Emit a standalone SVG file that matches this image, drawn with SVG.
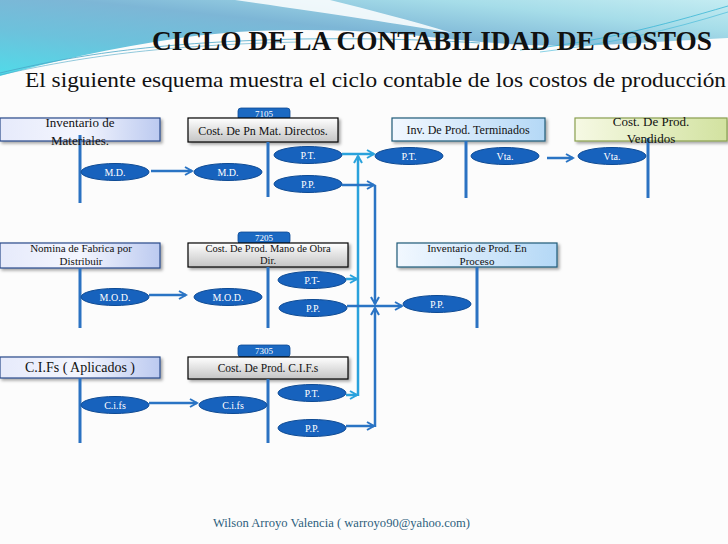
<svg xmlns="http://www.w3.org/2000/svg" width="728" height="544" viewBox="0 0 728 544">
<defs>
  <linearGradient id="sky" x1="0" y1="1" x2="1" y2="0">
    <stop offset="0" stop-color="#50dbe9"/>
    <stop offset="0.3" stop-color="#6cc2dc"/>
    <stop offset="0.55" stop-color="#7db6d6"/>
    <stop offset="0.8" stop-color="#a6dde9"/>
    <stop offset="1" stop-color="#c4ecf2"/>
  </linearGradient>
  <linearGradient id="gLav" x1="0" y1="0" x2="1" y2="0">
    <stop offset="0" stop-color="#e6eafb"/>
    <stop offset="0.5" stop-color="#f4f6fe"/>
    <stop offset="1" stop-color="#bccaf0"/>
  </linearGradient>
  <linearGradient id="gGray" x1="0" y1="0" x2="0" y2="1">
    <stop offset="0" stop-color="#ffffff"/>
    <stop offset="1" stop-color="#c4c4c4"/>
  </linearGradient>
  <linearGradient id="gBlue" x1="0" y1="0" x2="1" y2="0">
    <stop offset="0" stop-color="#f2f8ff"/>
    <stop offset="1" stop-color="#b4d8f6"/>
  </linearGradient>
  <linearGradient id="gGreen" x1="0" y1="0" x2="1" y2="0">
    <stop offset="0" stop-color="#f6f9e4"/>
    <stop offset="1" stop-color="#d2e2a0"/>
  </linearGradient>
  <filter id="sh" x="-10%" y="-20%" width="120%" height="160%">
    <feDropShadow dx="2" dy="2" stdDeviation="1.5" flood-color="#000" flood-opacity="0.35"/>
  </filter>
  <marker id="aD" viewBox="0 0 10 10" refX="8" refY="5" markerWidth="10" markerHeight="10" markerUnits="userSpaceOnUse" orient="auto">
    <path d="M1,1 L8,5 L1,9" fill="none" stroke="#2a74c4" stroke-width="2"/>
  </marker>
  <marker id="aL" viewBox="0 0 10 10" refX="8" refY="5" markerWidth="10" markerHeight="10" markerUnits="userSpaceOnUse" orient="auto">
    <path d="M1,1 L8,5 L1,9" fill="none" stroke="#2aa2dc" stroke-width="2"/>
  </marker>
  <style>
    .t { font-family: "Liberation Serif", "DejaVu Serif", serif; fill: #111; }
    .e { fill: #1762bd; stroke: #0d4a94; stroke-width: 1; }
    .et { font-family: "Liberation Serif", "DejaVu Serif", serif; font-size: 10px; fill: #fff; text-anchor: middle; }
    .tab { fill: #1b69c2; stroke: #0d4a94; stroke-width: 0.8; }
    .tabt { font-family: "Liberation Serif", "DejaVu Serif", serif; font-size: 9px; fill: #fff; text-anchor: middle; }
    .v { stroke: #2b72c2; stroke-width: 3; fill: none; }
    .cd { stroke: #2a74c4; stroke-width: 2.5; fill: none; }
    .cl { stroke: #2aa2dc; stroke-width: 2.5; fill: none; }
    .bLav { fill: url(#gLav); stroke: #2a4a8a; stroke-width: 1.2; }
    .bGray { fill: url(#gGray); stroke: #000; stroke-width: 1.2; }
    .bBlue { fill: url(#gBlue); stroke: #1f5a78; stroke-width: 1.2; }
    .bGreen { fill: url(#gGreen); stroke: #8aa050; stroke-width: 1.2; }
  </style>
</defs>

<rect x="0" y="0" width="728" height="544" fill="#fcfcfc"/>

<!-- header background -->
<path d="M0,0 H728 V38 C690,40 640,43 600,45 C520,48 460,40 400,34 C330,28 250,28 180,38 C110,48 50,62 0,76 Z" fill="url(#sky)"/>
<path d="M235,0 L330,0 C370,10 410,20 452,33 C400,24 320,12 235,0 Z" fill="#ffffff" opacity="0.85"/>
<path d="M0,73 C80,54 160,42 300,39 C380,38 430,40 480,43" fill="none" stroke="#4aa6c6" stroke-width="0.8"/>
<path d="M0,75 C80,57 160,45 300,42" fill="none" stroke="#4aa6c6" stroke-width="0.6"/>
<path d="M520,50 C600,42 660,26 728,6" fill="none" stroke="#3ab6d6" stroke-width="0.8"/>
<path d="M540,52 C610,44 670,30 728,12" fill="none" stroke="#3ab6d6" stroke-width="0.6"/>

<text class="t" x="152" y="50" font-size="28" font-weight="bold" textLength="560" lengthAdjust="spacingAndGlyphs">CICLO DE LA CONTABILIDAD DE COSTOS</text>
<text class="t" x="25" y="87" font-size="22" textLength="701" lengthAdjust="spacingAndGlyphs">El siguiente esquema muestra el ciclo contable de los costos de producción</text>

<!-- Row 1 -->
<g id="inv-materiales">
  <rect class="bLav" x="0" y="118" width="160" height="23" filter="url(#sh)"/>
  <line class="v" x1="80" y1="135" x2="80" y2="203"/>
  <text class="t" x="80" y="127" font-size="13" text-anchor="middle">Inventario de</text>
  <text class="t" x="80" y="145" font-size="13" text-anchor="middle">Materiales.</text>
  <ellipse class="e" cx="115" cy="172" rx="34" ry="8.5"/>
  <text class="et" x="115" y="175.5">M.D.</text>
</g>
<g id="cost-mat-directos">
  <rect class="tab" x="238" y="108" width="52" height="12" rx="3"/>
  <text class="tabt" x="264" y="117">7105</text>
  <rect class="bGray" x="188" y="118" width="150" height="24" filter="url(#sh)"/>
  <text class="t" x="263" y="135" font-size="12" text-anchor="middle">Cost. De Pn  Mat. Directos.</text>
  <line class="v" x1="268" y1="142" x2="268" y2="197"/>
  <ellipse class="e" cx="228" cy="172" rx="34" ry="8.5"/>
  <text class="et" x="228" y="175.5">M.D.</text>
  <ellipse class="e" cx="308" cy="155" rx="34" ry="8.5"/>
  <text class="et" x="308" y="158.5">P.T.</text>
  <ellipse class="e" cx="308" cy="184" rx="34" ry="8.5"/>
  <text class="et" x="308" y="187.5">P.P.</text>
</g>
<g id="inv-prod-terminados">
  <rect class="bBlue" x="392" y="118" width="153" height="23" filter="url(#sh)"/>
  <text class="t" x="468" y="134" font-size="12" text-anchor="middle">Inv. De Prod. Terminados</text>
  <line class="v" x1="466" y1="141" x2="466" y2="198"/>
  <ellipse class="e" cx="409" cy="156" rx="34" ry="8.5"/>
  <text class="et" x="409" y="159.5">P.T.</text>
  <ellipse class="e" cx="505" cy="156" rx="34" ry="8.5"/>
  <text class="et" x="505" y="159.5">Vta.</text>
</g>
<g id="cost-prod-vendidos">
  <rect class="bGreen" x="575" y="118" width="152" height="23" filter="url(#sh)"/>
  <line class="v" x1="648" y1="138" x2="648" y2="198"/>
  <text class="t" x="651" y="126" font-size="13" text-anchor="middle">Cost. De Prod.</text>
  <text class="t" x="651" y="143" font-size="13" text-anchor="middle">Vendidos</text>
  <ellipse class="e" cx="612" cy="156" rx="34" ry="8.5"/>
  <text class="et" x="612" y="159.5">Vta.</text>
</g>

<!-- Row 2 -->
<g id="nomina-fabrica">
  <rect class="bLav" x="0" y="243" width="160" height="25" filter="url(#sh)"/>
  <text class="t" x="81" y="252" font-size="11" text-anchor="middle">Nomina de Fabrica por</text>
  <text class="t" x="81" y="265" font-size="11" text-anchor="middle">Distribuir</text>
  <line class="v" x1="80" y1="268" x2="80" y2="328"/>
  <ellipse class="e" cx="115" cy="297" rx="34" ry="8.5"/>
  <text class="et" x="115" y="300.5">M.O.D.</text>
</g>
<g id="cost-mano-obra">
  <rect class="tab" x="238" y="232" width="52" height="12" rx="3"/>
  <text class="tabt" x="264" y="241">7205</text>
  <rect class="bGray" x="188" y="243" width="160" height="24" filter="url(#sh)"/>
  <text class="t" x="268" y="252" font-size="10.5" text-anchor="middle">Cost. De Prod. Mano de Obra</text>
  <text class="t" x="268" y="264" font-size="10.5" text-anchor="middle">Dir.</text>
  <line class="v" x1="268" y1="267" x2="268" y2="328"/>
  <ellipse class="e" cx="228" cy="297" rx="34" ry="8.5"/>
  <text class="et" x="228" y="300.5">M.O.D.</text>
  <ellipse class="e" cx="312" cy="280" rx="34" ry="8.5"/>
  <text class="et" x="312" y="283.5">P.T-</text>
  <ellipse class="e" cx="313" cy="308" rx="34" ry="8.5"/>
  <text class="et" x="313" y="311.5">P.P.</text>
</g>
<g id="inv-prod-proceso">
  <rect class="bBlue" x="397" y="243" width="160" height="24" filter="url(#sh)"/>
  <text class="t" x="477" y="252" font-size="11" text-anchor="middle">Inventario de Prod. En</text>
  <text class="t" x="477" y="265" font-size="11" text-anchor="middle">Proceso</text>
  <line class="v" x1="477" y1="267" x2="477" y2="328"/>
  <ellipse class="e" cx="437" cy="304" rx="34" ry="8.5"/>
  <text class="et" x="437" y="307.5">P.P.</text>
</g>

<!-- Row 3 -->
<g id="cifs-aplicados">
  <rect class="bLav" x="0" y="357" width="160" height="21" filter="url(#sh)"/>
  <text class="t" x="80" y="372" font-size="14" text-anchor="middle">C.I.Fs ( Aplicados )</text>
  <line class="v" x1="80" y1="378" x2="80" y2="443"/>
  <ellipse class="e" cx="115" cy="405" rx="34" ry="8.5"/>
  <text class="et" x="115" y="408.5">C.i.fs</text>
</g>
<g id="cost-cifs">
  <rect class="tab" x="238" y="345" width="52" height="12" rx="3"/>
  <text class="tabt" x="264" y="354">7305</text>
  <rect class="bGray" x="188" y="357" width="160" height="22" filter="url(#sh)"/>
  <text class="t" x="268" y="372" font-size="11.5" text-anchor="middle">Cost. De Prod. C.I.F.s</text>
  <line class="v" x1="268" y1="379" x2="268" y2="443"/>
  <ellipse class="e" cx="233" cy="405" rx="34" ry="8.5"/>
  <text class="et" x="233" y="408.5">C.i.fs</text>
  <ellipse class="e" cx="312" cy="393" rx="34" ry="8.5"/>
  <text class="et" x="312" y="396.5">P.T.</text>
  <ellipse class="e" cx="312" cy="428" rx="34" ry="8.5"/>
  <text class="et" x="312" y="431.5">P.P.</text>
</g>

<!-- connectors -->
<g id="connectors">
  <line class="cd" x1="151" y1="171" x2="192" y2="171" marker-end="url(#aD)"/>
  <line class="cd" x1="547" y1="158" x2="573" y2="158" marker-end="url(#aD)"/>
  <line class="cd" x1="149" y1="295" x2="186" y2="295" marker-end="url(#aD)"/>
  <line class="cd" x1="149" y1="403" x2="197" y2="403" marker-end="url(#aD)"/>

  <line class="cl" x1="358" y1="396" x2="358" y2="156" marker-end="url(#aL)"/>
  <line class="cl" x1="342" y1="154" x2="374" y2="154" marker-end="url(#aL)"/>
  <line class="cl" x1="346" y1="279" x2="357" y2="279" marker-end="url(#aL)"/>
  <line class="cl" x1="346" y1="395" x2="357" y2="395" marker-end="url(#aL)"/>

  <line class="cd" x1="342" y1="185" x2="374" y2="185" marker-end="url(#aD)"/>
  <line class="cd" x1="375" y1="185" x2="375" y2="304" marker-end="url(#aD)"/>
  <line class="cd" x1="375" y1="427" x2="375" y2="308" marker-end="url(#aD)"/>
  <line class="cd" x1="346" y1="426" x2="374" y2="426" marker-end="url(#aD)"/>
  <line class="cd" x1="347" y1="306" x2="402" y2="306" marker-end="url(#aD)"/>
</g>

<text x="213" y="527" font-family="Liberation Serif, DejaVu Serif, serif" font-size="12" fill="#2e5f7c" textLength="257" lengthAdjust="spacingAndGlyphs">Wilson Arroyo Valencia ( warroyo90@yahoo.com)</text>
</svg>
